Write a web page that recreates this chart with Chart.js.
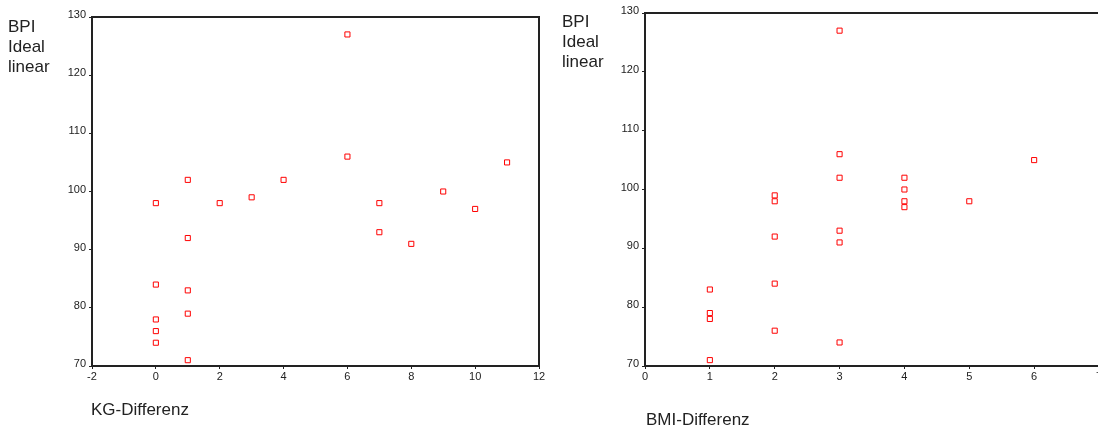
<!DOCTYPE html>
<html>
<head>
<meta charset="utf-8">
<script src="https://cdn.jsdelivr.net/npm/chart.js@4/dist/chart.umd.min.js"></script>
<style>
  html, body { margin: 0; padding: 0; background: #fff; overflow: hidden; }
  body { width: 1098px; height: 430px; position: relative; font-family: "Liberation Sans", Arial, sans-serif; }
  .panel { position: absolute; top: 0; height: 430px; }
  .ytitle, .xtitle { position: absolute; font-size: 17px; color: #222; line-height: 20px; white-space: nowrap; }
</style>
</head>
<body>
<div class="panel" style="left:0;width:549px;"><canvas id="kg-chart" width="549" height="430"></canvas></div>
<div class="panel" style="left:549px;width:562px;"><canvas id="bmi-chart" width="562" height="430"></canvas></div>
<div class="ytitle" style="left:8px;top:17px;">BPI<br>Ideal<br>linear</div>
<div class="ytitle" style="left:562px;top:12px;">BPI<br>Ideal<br>linear</div>
<div class="xtitle" style="left:91px;top:400px;">KG-Differenz</div>
<div class="xtitle" style="left:646px;top:410px;">BMI-Differenz</div>
<script>
  // one entry per person
  const bpiIdeal = [127, 106, 105, 102, 102, 100, 99, 98, 98, 98, 97, 93, 92, 91, 84, 83, 79, 78, 76, 74, 71];
  const kgDiff = [6, 6, 11, 1, 4, 9, 3, 0, 2, 7, 10, 7, 1, 8, 0, 1, 1, 0, 0, 0, 1];
  const bmiDiff = [3, 3, 6, 3, 4, 4, 2, 2, 4, 5, 4, 3, 2, 3, 2, 1, 1, 1, 2, 3, 1];

  const kgTicks = { min: -2, max: 12, step: 2 };
  const bmiTicks = { min: 0, max: 7, step: 1 };
  const bpiTicks = { min: 70, max: 130, step: 10 };

  const frame = {
    id: 'frame',
    afterDraw(chart) {
      const a = chart.chartArea;
      const ctx = chart.ctx;
      ctx.save();
      ctx.strokeStyle = '#222';
      ctx.lineWidth = 2;
      ctx.beginPath();
      ctx.moveTo(a.left, a.top);
      ctx.lineTo(a.right, a.top);
      ctx.lineTo(a.right, a.bottom);
      ctx.stroke();
      ctx.restore();
    }
  };

  function makeChart(id, xs, xTicks, yAxisWidth, topPad, rightPad) {
    const points = xs.map((x, i) => ({ x: x, y: bpiIdeal[i] }));
    return new Chart(document.getElementById(id), {
      type: 'scatter',
      data: {
        datasets: [{
          data: points,
          pointStyle: 'rect',
          pointRadius: 3.6,
          borderColor: '#ff0000',
          backgroundColor: '#ffffff',
          borderWidth: 1
        }]
      },
      options: {
        responsive: false,
        animation: false,
        events: [],
        layout: { padding: { top: topPad, right: rightPad, left: 0, bottom: 0 } },
        plugins: { legend: { display: false }, tooltip: { enabled: false } },
        scales: {
          x: {
            type: 'linear',
            min: xTicks.min,
            max: xTicks.max,
            afterFit(scale) { scale.height = 64; },
            border: { color: '#222', width: 2 },
            grid: { drawOnChartArea: false, drawTicks: true, tickLength: 3, color: '#222' },
            ticks: {
              stepSize: xTicks.step,
              padding: 1,
              maxRotation: 0,
              color: '#222',
              font: { family: '"Liberation Sans", Arial, sans-serif', size: 11 }
            }
          },
          y: {
            type: 'linear',
            min: bpiTicks.min,
            max: bpiTicks.max,
            afterFit(scale) { scale.width = yAxisWidth; },
            border: { color: '#222', width: 2 },
            grid: { drawOnChartArea: false, drawTicks: true, tickLength: 3, color: '#222' },
            ticks: {
              stepSize: bpiTicks.step,
              padding: 3,
              labelOffset: -2,
              color: '#222',
              font: { family: '"Liberation Sans", Arial, sans-serif', size: 11 }
            }
          }
        }
      },
      plugins: [frame]
    });
  }

  makeChart('kg-chart', kgDiff, kgTicks, 92, 17, 10);
  makeChart('bmi-chart', bmiDiff, bmiTicks, 96, 13, 12);
</script>
</body>
</html>
